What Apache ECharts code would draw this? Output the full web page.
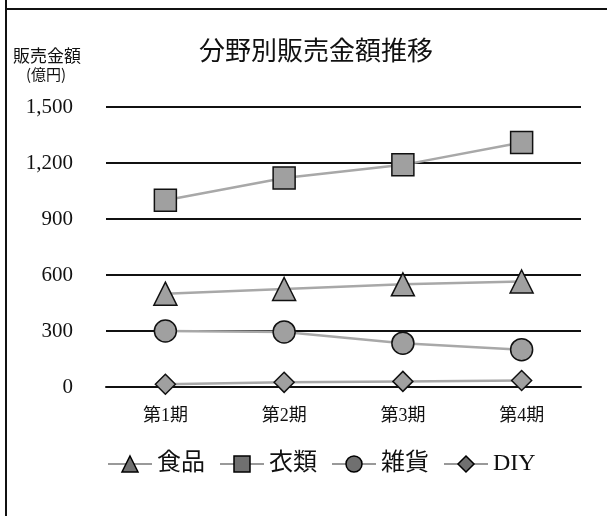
<!DOCTYPE html>
<html>
<head>
<meta charset="utf-8">
<script src="https://cdn.jsdelivr.net/npm/echarts@6/dist/echarts.min.js"></script>
<style>html,body{margin:0;padding:0;background:#fff;}#c{width:607px;height:516px;}</style>
</head>
<body>
<div id="c"></div>
<script>
var categories = ['第1期', '第2期', '第3期', '第4期'];
var seriesNames = ['食品', '衣類', '雑貨', 'DIY'];
var food = [500, 525, 550, 565];
var clothes = [1000, 1120, 1190, 1310];
var goods = [300, 295, 235, 200];
var diy = [15, 25, 30, 35];
var yTicks = [0, 300, 600, 900, 1200, 1500];

var FONT = '"Liberation Serif", "Noto Sans CJK JP", serif';
var chart = echarts.init(document.getElementById('c'));

function markerStyle() { return { color: '#a0a0a0', borderColor: '#111', borderWidth: 1.5 }; }

function mk(name, data, symbol, size) {
  return {
    name: name, type: 'line', data: data, symbol: symbol, symbolSize: size,
    lineStyle: { color: '#a8a8a8', width: 2.5 },
    itemStyle: markerStyle(),
    emphasis: { disabled: true },
    z: 3
  };
}

chart.setOption({
  animation: false,
  backgroundColor: '#fff',
  title: {
    text: '分野別販売金額推移', left: 311, top: 35, textAlign: 'center',
    textStyle: { fontFamily: FONT, fontSize: 26, fontWeight: 'normal', color: '#111' }
  },
  graphic: [
    { type: 'line', shape: { x1: 6, y1: 0, x2: 6, y2: 516 }, style: { stroke: '#111', lineWidth: 2 } },
    { type: 'line', shape: { x1: 6, y1: 9, x2: 607, y2: 9 }, style: { stroke: '#111', lineWidth: 2 } },
    { type: 'text', left: 13, top: 47, style: { text: '販売金額', font: '17px "Noto Sans CJK JP"', fill: '#111' } },
    { type: 'text', left: 26, top: 67, style: { text: '(億円)', font: '15px "Noto Sans CJK JP"', fill: '#111' } }
  ],
  grid: { left: 106, right: 26, top: 107, bottom: 129 },
  legend: {
    data: seriesNames,
    left: 102, top: 447, itemWidth: 44, itemHeight: 20, itemGap: 14,
    itemStyle: { color: '#707070', borderColor: '#000', borderWidth: 1.5, opacity: 1 },
    lineStyle: { color: '#999', width: 2 },
    textStyle: { fontFamily: FONT, fontSize: 24, color: '#111' }
  },
  xAxis: {
    type: 'category', data: categories, boundaryGap: true,
    axisLine: { show: true, lineStyle: { color: '#111', width: 2 } },
    axisTick: { show: false },
    axisLabel: { margin: 20, fontFamily: FONT, fontSize: 18, color: '#111' }
  },
  yAxis: {
    type: 'value', min: 0, max: 1500, interval: 300,
    axisLine: { show: false }, axisTick: { show: false },
    splitLine: { lineStyle: { color: '#111', width: 2 } },
    axisLabel: {
      margin: 33, fontFamily: FONT, fontSize: 21, color: '#111',
      formatter: function (v) { return v.toLocaleString('en-US'); }
    }
  },
  series: [
    mk(seriesNames[0], food, 'triangle', 23),
    mk(seriesNames[1], clothes, 'rect', 22),
    mk(seriesNames[2], goods, 'circle', 22),
    mk(seriesNames[3], diy, 'diamond', 20)
  ]
});
</script>
</body>
</html>
